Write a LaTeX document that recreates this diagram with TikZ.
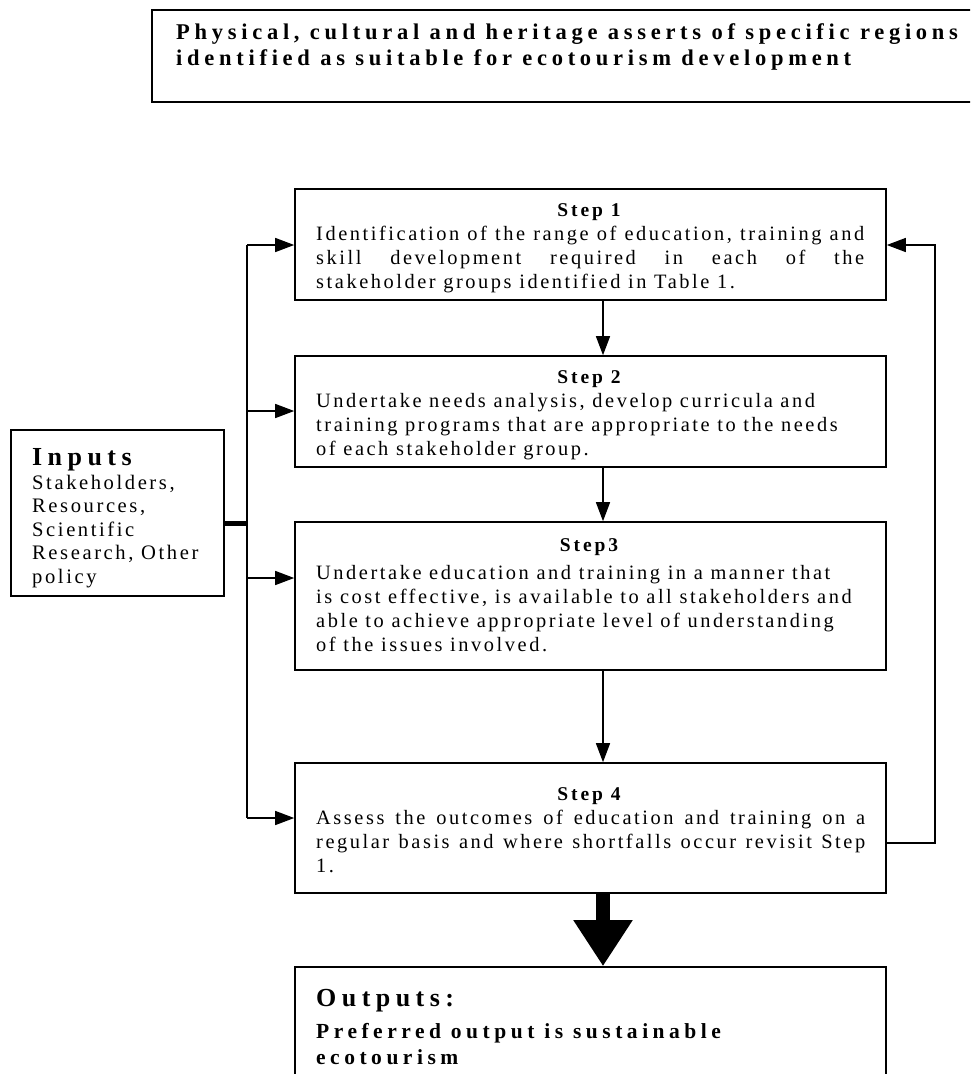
\documentclass[tikz,border=0pt]{standalone}
\usepackage{fontspec}
\setmainfont{Liberation Serif}
\newfontfamily\bodyfont{Liberation Serif}[LetterSpace=12.5]
\newfontfamily\boldfont{Liberation Serif}[LetterSpace=21]
\newfontfamily\stepfont{Liberation Serif}[LetterSpace=15]
\usetikzlibrary{arrows.meta}
\tikzset{
  box/.style={draw, line width=1.6pt, inner sep=0pt},
  link/.style={line width=1.4pt},
  conn/.style={line width=1.4pt, -{Triangle[length=19pt,width=14pt]}},
  txt/.style={anchor=base west, inner sep=0pt, font=\bodyfont\fontsize{20.4}{24}\selectfont},
  intxt/.style={anchor=base west, inner sep=0pt, font=\bodyfont\fontsize{20.6}{24}\selectfont},
  ttl/.style={anchor=base, inner sep=0pt, font=\stepfont\bfseries\fontsize{19.5}{24}\selectfont},
  toptxt/.style={anchor=base west, inner sep=0pt, font=\boldfont\bfseries\fontsize{22.5}{26}\selectfont},
  bigttl/.style={anchor=base west, inner sep=0pt, font=\boldfont\bfseries\fontsize{26}{30}\selectfont},
  outtxt/.style={anchor=base west, inner sep=0pt, font=\boldfont\bfseries\fontsize{21.5}{26}\selectfont}
}
\begin{document}
\begin{tikzpicture}[x=1pt,y=-1pt]
\useasboundingbox (0,0) rectangle (970,1074);
\clip (0,0) rectangle (970,1074);
% boxes
\node[box, minimum width=830pt, minimum height=92pt] (top) at (567,56) {};
\node[box, minimum width=591pt, minimum height=111pt] (s1) at (590.5,244.5) {};
\node[box, minimum width=591pt, minimum height=111pt] (s2) at (590.5,411.5) {};
\node[box, minimum width=591pt, minimum height=148pt] (s3) at (590.5,596) {};
\node[box, minimum width=591pt, minimum height=130pt] (s4) at (590.5,828) {};
\node[box, minimum width=591pt, minimum height=130pt] (out) at (590.5,1032) {};
\node[box, minimum width=213pt, minimum height=166pt] (in) at (117.5,513) {};
% top text
\node[toptxt] (t1) at (176,39) {Physical, cultural and heritage asserts of specific regions};
\node[toptxt] (t2) at (176,65.5) {identified as suitable for ecotourism development};
% step 1
\node[ttl] (s1t) at (589,216) {Step 1};
\node[txt] (s1a) at (316,240) {\makebox[548pt][s]{Identification of the range of education, training and}};
\node[txt] (s1b) at (316,264) {\makebox[548pt][s]{skill development required in each of the}};
\node[txt] (s1c) at (316,288) {stakeholder groups identified in Table 1.};
% step 2
\node[ttl] (s2t) at (589,383) {Step 2};
\node[txt] (s2a) at (316,407) {Undertake needs analysis, develop curricula and};
\node[txt] (s2b) at (316,431) {training programs that are appropriate to the needs};
\node[txt] (s2c) at (316,455) {of each stakeholder group.};
% step 3
\node[ttl] (s3t) at (589,551) {Step3};
\node[txt] (s3a) at (316,579) {Undertake education and training in a manner that};
\node[txt] (s3b) at (316,603) {is cost effective, is available to all stakeholders and};
\node[txt] (s3c) at (316,627) {able to achieve appropriate level of understanding};
\node[txt] (s3d) at (316,651) {of the issues involved.};
% step 4
\node[ttl] (s4t) at (589,800) {Step 4};
\node[txt] (s4a) at (316,824) {\makebox[549pt][s]{Assess the outcomes of education and training on a}};
\node[txt] (s4b) at (316,848) {\makebox[549pt][s]{regular basis and where shortfalls occur revisit Step}};
\node[txt] (s4c) at (316,872) {1.};
% inputs
\node[bigttl] (int) at (32,465) {Inputs};
\node[intxt] (ina) at (32,489) {Stakeholders,};
\node[intxt] (inb) at (32,512) {Resources,};
\node[intxt] (inc) at (32,536) {Scientific};
\node[intxt] (ind) at (32,559) {Research, Other};
\node[intxt] (ine) at (32,583) {policy};
% outputs
\node[bigttl] (outt) at (316,1006) {Outputs:};
\node[outtxt] (outa) at (316,1038) {Preferred output is sustainable};
\node[outtxt] (outb) at (316,1064) {ecotourism};
% bus
\coordinate (b1) at (247,245);
\coordinate (b2) at (247,411);
\coordinate (b3) at (247,578);
\coordinate (b4) at (247,818);
\coordinate (bj) at (247,523);
\coordinate (ax) at (603,0);
\coordinate (fb) at (935,843);
\draw[link] (b1) -- (b4);
\draw[line width=5pt] (in.east |- bj) -- ([xshift=0.7pt]bj);
\draw[conn] (b1) -- (s1.west |- b1);
\draw[conn] (b2) -- (s2.west |- b2);
\draw[conn] (b3) -- (s3.west |- b3);
\draw[conn] (b4) -- (s4.west |- b4);
% step arrows
\draw[conn] (s1.south -| ax) -- (s2.north -| ax);
\draw[conn] (s2.south -| ax) -- (s3.north -| ax);
\draw[conn] (s3.south -| ax) -- (s4.north -| ax);
% feedback
\draw[conn] (s4.east |- fb) -- (fb) |- (s1.east |- b1);
% big arrow
\draw[line width=14pt, -{Triangle[length=46pt,width=56pt]}] (s4.south -| ax) -- (out.north -| ax);
\end{tikzpicture}
\end{document}
